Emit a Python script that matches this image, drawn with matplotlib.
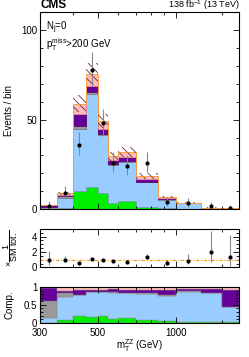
import numpy as np
import matplotlib
matplotlib.use("Agg")
import matplotlib.pyplot as plt
from matplotlib.ticker import NullFormatter

plt.rcParams['font.family'] = ['Liberation Sans', 'DejaVu Sans']
plt.rcParams['mathtext.fontset'] = 'custom'
plt.rcParams['mathtext.rm'] = 'Liberation Sans'
plt.rcParams['mathtext.it'] = 'Liberation Sans:italic'
plt.rcParams['mathtext.default'] = 'regular'
plt.rcParams['hatch.linewidth'] = 0.6

# bin edges in mT(ZZ) (GeV)
edges = np.array([300, 350, 400, 450, 500, 550, 600, 700, 850, 1000, 1250, 1500, 1750])

# stacked components, bottom to top
green = np.array([0.0, 0.7, 10.3, 12.5, 8.9, 3.3, 4.6, 1.5, 0.4, 0.1, 0.02, 0.02])
blue = np.array([0.3, 5.6, 34.7, 52.0, 32.6, 21.2, 21.6, 13.5, 4.9, 3.1, 0.72, 0.25])
gray = np.array([1.05, 1.1, 1.2, 0.8, 0.7, 0.8, 0.6, 0.3, 0.2, 0.05, 0.01, 0.0])
purple = np.array([0.77, 0.5, 7.0, 3.7, 2.8, 2.2, 2.4, 1.5, 0.9, 0.25, 0.09, 0.29])
pink = np.array([0.08, 1.0, 5.7, 6.5, 4.0, 2.0, 2.7, 1.7, 0.6, 0.2, 0.06, 0.05])

# observed data with asymmetric errors
data = np.array([2.0, 9.0, 36.0, 77.5, 48.0, 26.0, 24.0, 26.0, 4.0, 3.3, 1.8, 0.8])
err_lo = np.array([1.3, 3.0, 6.0, 9.0, 7.0, 5.0, 5.0, 5.0, 2.0, 1.8, 1.2, 0.7])
err_hi = np.array([2.6, 4.0, 7.0, 10.0, 8.0, 6.0, 6.0, 6.0, 3.0, 3.0, 2.4, 1.8])
rel_unc = 0.08

components = [green, blue, gray, purple, pink]
colors = ['#00ee00', '#99ccff', '#999999', '#660099', '#ffbcbc']
edgecols = ['#22aa22', '#7799bb', '#777777', '#550077', '#ee9999']

total = np.sum(components, axis=0)
centers = np.sqrt(edges[:-1] * edges[1:])

fig = plt.figure(figsize=(2.49, 3.57), dpi=100)
ax = fig.add_axes([0.161, 0.414, 0.799, 0.552])
axr = fig.add_axes([0.161, 0.251, 0.799, 0.108])
axc = fig.add_axes([0.161, 0.094, 0.799, 0.102])

# main stack
base = np.zeros_like(total)
for comp, c, ec in zip(components, colors, edgecols):
    ax.stairs(base + comp, edges, baseline=base, fill=True, facecolor=c,
              edgecolor=ec, lw=0.5)
    base = base + comp
ax.stairs(total + rel_unc * total, edges, baseline=total - rel_unc * total,
          fill=True, facecolor='none', edgecolor='#6a3030', hatch='\\\\\\\\', lw=0)
ax.stairs(total, edges, baseline=0, color='#ff9900', ls=(0, (2, 1.5)), lw=0.7)
ax.errorbar(centers, data, yerr=[err_lo, err_hi], fmt='o', ms=2, color='black',
            ecolor='#888888', elinewidth=0.8, capsize=0)

ax.set_xscale('log')
ax.set_xlim(300, 1750)
ax.set_ylim(0, 110)
ax.set_yticks([0, 50, 100])
ax.set_yticks(np.arange(0, 111, 10), minor=True)
ax.set_ylabel('Events / bin', fontsize=7)
ax.text(0.03, 0.91, r'$N_j$=0', transform=ax.transAxes, fontsize=7)
ax.text(0.03, 0.82, r'$p_T^{miss}$>200 GeV', transform=ax.transAxes, fontsize=7)
ax.text(0.0, 1.02, 'CMS', transform=ax.transAxes, fontsize=8.5,
        fontweight='bold', va='baseline')
ax.text(1.0, 1.02, r'138 fb$^{-1}$ (13 TeV)', transform=ax.transAxes,
        fontsize=6.5, ha='right', va='baseline')

# ratio panel
ratio = data / total
ones = np.ones(len(total))
axr.stairs(ones + rel_unc, edges, baseline=ones - rel_unc, fill=True,
           facecolor='none', edgecolor='#999999', hatch='....', lw=0)
axr.axhline(1, color='#ff9900', ls=(0, (3, 1.5, 1, 1.5)), lw=0.8)
axr.errorbar(centers, ratio, yerr=[err_lo / total, err_hi / total], fmt='o', ms=2,
             color='black', ecolor='#888888', elinewidth=0.8, capsize=0)
axr.set_xscale('log')
axr.set_xlim(300, 1750)
axr.set_ylim(0, 5)
axr.set_yticks([0, 2, 4])
axr.set_yticks(np.arange(0, 5.1, 0.5), minor=True)
axr.set_ylabel(r'$\times\dfrac{1}{SM\ tot.}$', fontsize=6.5)

# composition panel
base = np.zeros_like(total)
for comp, c in zip(components, colors):
    frac = comp / total
    axc.stairs(base + frac, edges, baseline=base, fill=True, facecolor=c,
               edgecolor='#888888', lw=0.3)
    base = base + frac
axc.set_xscale('log')
axc.set_xlim(300, 1750)
axc.set_ylim(-0.02, 1)
axc.set_yticks([0, 0.5, 1])
axc.set_yticklabels(['0', '0.5', '1'])
axc.set_yticks(np.arange(0, 1.01, 0.1), minor=True)
axc.set_ylabel('Comp.', fontsize=7)
axc.set_xlabel(r'$m_T^{ZZ}$ (GeV)', fontsize=7, labelpad=0)

for a in (ax, axr, axc):
    a.set_xticks([300, 500, 1000])
    a.set_xticks([400, 600, 700, 800, 900, 1500], minor=True)
    a.xaxis.set_minor_formatter(NullFormatter())
    a.tick_params(which='both', direction='in', top=True, right=True,
                  labelsize=7, width=0.6, pad=2)
    a.tick_params(which='major', length=4)
    a.tick_params(which='minor', length=2)
    for s in a.spines.values():
        s.set_linewidth(0.8)
axc.tick_params(axis='x', pad=3)
ax.set_xticklabels([])
axr.set_xticklabels([])
axc.set_xticklabels(['300', '500', '1000'])
ax.yaxis.set_label_coords(-0.13, 0.5)
axr.yaxis.set_label_coords(-0.10, 0.5)
axc.yaxis.set_label_coords(-0.13, 0.5)

fig.savefig('out.png', dpi=100)
